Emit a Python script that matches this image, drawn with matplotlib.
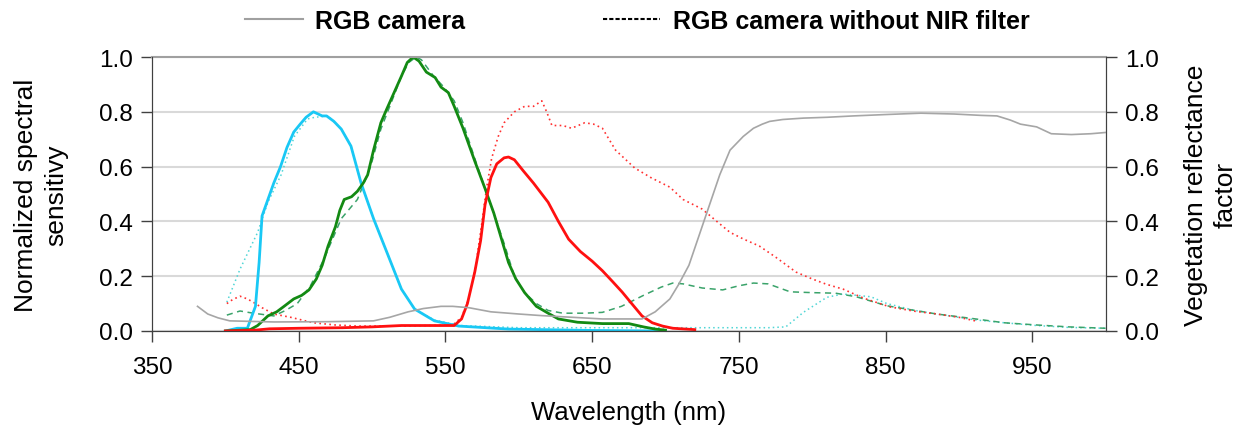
import matplotlib.pyplot as plt
from matplotlib.lines import Line2D

plt.rcParams['font.family'] = ['Liberation Sans', 'DejaVu Sans']

# RGB camera (solid)
blue_wl = [400, 408, 415, 420.5, 423, 425, 429, 433, 437.6, 442, 446.6, 451, 455, 460, 466, 469,
           474, 479, 485.6, 492.5, 501, 511, 520, 529, 542.5, 559, 593, 650, 700]
blue_val = [0.0, 0.01, 0.01, 0.09, 0.25, 0.42, 0.48, 0.54, 0.6, 0.67, 0.726, 0.755, 0.78, 0.8, 0.785, 0.785,
            0.765, 0.737, 0.675, 0.54, 0.41, 0.275, 0.153, 0.08, 0.037, 0.018, 0.007, 0.002, 0.0]

green_wl = [400, 410, 417, 422, 426, 429, 435, 440, 446.6, 452, 457, 462, 466, 470, 475, 478, 481, 486,
            490, 494, 497, 501, 506, 510, 515, 520, 524, 528, 532, 537, 543, 547, 552, 556, 562, 570,
            577, 583, 588, 593, 598, 604, 612, 620, 627, 640, 657, 675, 685, 693, 700]
green_val = [0.0, 0.003, 0.005, 0.02, 0.04, 0.055, 0.07, 0.09, 0.117, 0.13, 0.15, 0.19, 0.24, 0.31, 0.38, 0.44,
             0.48, 0.49, 0.51, 0.54, 0.57, 0.66, 0.76, 0.81, 0.87, 0.93, 0.98, 1.0, 0.985, 0.945, 0.925,
             0.89, 0.87, 0.82, 0.74, 0.62, 0.52, 0.43, 0.34, 0.25, 0.19, 0.14, 0.09, 0.065, 0.044, 0.032,
             0.027, 0.027, 0.015, 0.007, 0.003]

red_wl = [400, 420, 430, 450, 480, 500, 520, 540, 556, 561, 565, 570, 574, 577, 581, 585, 590, 593, 597,
          603, 610, 620, 627, 634, 642, 650, 657, 664, 670.5, 677, 684, 691, 698, 705, 720]
red_val = [0.0, 0.003, 0.008, 0.01, 0.012, 0.015, 0.02, 0.02, 0.02, 0.044, 0.1, 0.215, 0.33, 0.46, 0.56,
           0.61, 0.632, 0.635, 0.625, 0.585, 0.54, 0.47, 0.4, 0.335, 0.29, 0.255, 0.22, 0.18, 0.142, 0.1,
           0.055, 0.03, 0.018, 0.01, 0.005]

# RGB camera without NIR filter (dotted / dashed)
blue_nir_wl = [401, 410, 422, 429, 438, 447, 456, 461, 470, 479, 485.6, 492.5, 501, 511, 520, 529, 542.5,
               560, 600, 650, 700, 770, 782, 794, 810, 821, 840, 851, 870, 885, 912, 931, 953, 975, 1000]
blue_nir_val = [0.105, 0.226, 0.36, 0.47, 0.57, 0.71, 0.774, 0.78, 0.785, 0.737, 0.675, 0.54, 0.41, 0.275,
                0.153, 0.08, 0.04, 0.02, 0.012, 0.012, 0.012, 0.012, 0.015, 0.068, 0.123, 0.135, 0.125,
                0.1, 0.075, 0.062, 0.04, 0.03, 0.02, 0.013, 0.01]

green_nir_wl = [401, 410, 419, 433, 441, 449, 458, 467, 479, 490, 499, 506, 515, 520, 525, 530, 533.6, 542,
                549, 556, 562, 570, 577, 583, 590, 597, 604, 612, 620, 630, 645, 657, 670, 685, 697, 705,
                712, 725, 739, 750, 760, 770, 785, 800, 816, 830, 851, 870, 885, 910, 931, 953, 975, 1000]
green_nir_val = [0.058, 0.073, 0.065, 0.055, 0.075, 0.1, 0.165, 0.26, 0.41, 0.48, 0.6, 0.737, 0.86, 0.93,
                 0.98, 1.0, 0.99, 0.93, 0.89, 0.84, 0.76, 0.63, 0.52, 0.43, 0.32, 0.2, 0.14, 0.1, 0.075,
                 0.065, 0.065, 0.068, 0.09, 0.13, 0.16, 0.175, 0.172, 0.157, 0.15, 0.165, 0.175, 0.172,
                 0.143, 0.14, 0.138, 0.125, 0.092, 0.075, 0.062, 0.045, 0.03, 0.022, 0.015, 0.01]

red_nir_wl = [401, 405, 410, 415, 419, 425, 433, 444.5, 460, 475, 490, 520, 540, 555, 561, 566, 571, 575,
              578, 581.5, 586, 590, 597, 604, 610, 615.7, 619, 622.6, 630, 636, 645, 651, 657, 666, 679,
              690, 703, 712, 725, 735, 744, 753, 764, 775, 789, 800, 810, 821, 835, 853, 870, 885, 900, 912]
red_nir_val = [0.1, 0.115, 0.127, 0.117, 0.105, 0.085, 0.062, 0.05, 0.03, 0.022, 0.018, 0.018, 0.02, 0.022,
               0.05, 0.12, 0.25, 0.4, 0.52, 0.63, 0.71, 0.76, 0.8, 0.82, 0.82, 0.84, 0.8, 0.75, 0.75,
               0.74, 0.76, 0.755, 0.74, 0.66, 0.595, 0.56, 0.525, 0.48, 0.445, 0.4, 0.36, 0.336, 0.31,
               0.27, 0.215, 0.19, 0.17, 0.153, 0.12, 0.088, 0.072, 0.062, 0.05, 0.036]

# vegetation reflectance (right axis)
veg_wl = [381, 388, 395, 403, 433, 470, 501, 512, 524.6, 535, 547, 555, 566, 581, 600, 616, 657, 684, 693,
          703, 709, 716, 723, 730, 737, 744, 753, 760, 766, 771, 780, 794, 810, 828, 850, 874, 896.6, 915,
          926, 935, 942, 953, 963, 976.7, 990, 1001]
veg_val = [0.09, 0.062, 0.048, 0.037, 0.033, 0.034, 0.037, 0.05, 0.07, 0.082, 0.09, 0.09, 0.085, 0.07, 0.062,
           0.056, 0.044, 0.044, 0.07, 0.117, 0.17, 0.24, 0.35, 0.46, 0.57, 0.66, 0.71, 0.74, 0.755, 0.765,
           0.772, 0.777, 0.78, 0.785, 0.79, 0.795, 0.792, 0.787, 0.785, 0.77, 0.755, 0.745, 0.72, 0.717,
           0.72, 0.725]

fig = plt.figure(figsize=(12.39, 4.31), dpi=100)
ax = fig.add_axes([0.1227, 0.2297, 0.7696, 0.6357])
ax2 = ax.twinx()

ax.plot(blue_nir_wl, blue_nir_val, color='#4fd6d6', lw=1.1, ls=(0, (1, 2)))
ax.plot(green_nir_wl, green_nir_val, color='#3aa36a', lw=1.1, ls=(0, (4, 3)))
ax.plot(red_nir_wl, red_nir_val, color='#ff3030', lw=1.2, ls=(0, (1, 2)))
ax.plot(blue_wl, blue_val, color='#19c8f5', lw=2)
ax.plot(green_wl, green_val, color='#138a13', lw=2)
ax.plot(red_wl, red_val, color='#ff1010', lw=2)
ax2.plot(veg_wl, veg_val, color='#a6a6a6', lw=1.2)

ax.set_xlim(350, 1000)
ax.set_ylim(0, 1)
ax2.set_ylim(0, 1)
ax.set_xticks([350, 450, 550, 650, 750, 850, 950])
ax.set_yticks([0, 0.2, 0.4, 0.6, 0.8, 1.0])
ax2.set_yticks([0, 0.2, 0.4, 0.6, 0.8, 1.0])
ax.yaxis.set_major_formatter(plt.FormatStrFormatter('%.1f'))
ax2.yaxis.set_major_formatter(plt.FormatStrFormatter('%.1f'))
ax.grid(axis='y', color='#d9d9d9', lw=1.5)
ax.set_axisbelow(True)

for a in (ax, ax2):
    a.tick_params(direction='out', length=8, width=1, color='#404040', labelsize=17.5, pad=6)
    for s in a.spines.values():
        s.set_color('#404040')
ax.tick_params(axis='x', pad=10)
ax.spines['top'].set_color('#a0a0a0')
ax.spines['top'].set_linewidth(1.5)
ax2.spines['top'].set_visible(False)

ax.set_xlabel('Wavelength (nm)', fontsize=18.5, labelpad=16)
ax.set_ylabel('Normalized spectral\nsensitivy', fontsize=19, linespacing=1.3, labelpad=22)
ax2.set_ylabel('Vegetation reflectance\nfactor', fontsize=19, linespacing=1.3, labelpad=18)

handles = [Line2D([], [], color='#a0a0a0', lw=1.5),
           Line2D([], [], color='black', lw=1.5, ls=(0, (2, 1)))]
fig.legend(handles, ['RGB camera', 'RGB camera without NIR filter'], loc='upper center',
           bbox_to_anchor=(0.5145, 1.03), ncol=2, frameon=False, handlelength=2.3, columnspacing=5.5,
           handletextpad=0.5, prop={'weight': 'bold', 'size': 18})

plt.savefig('out.png', dpi=100)
